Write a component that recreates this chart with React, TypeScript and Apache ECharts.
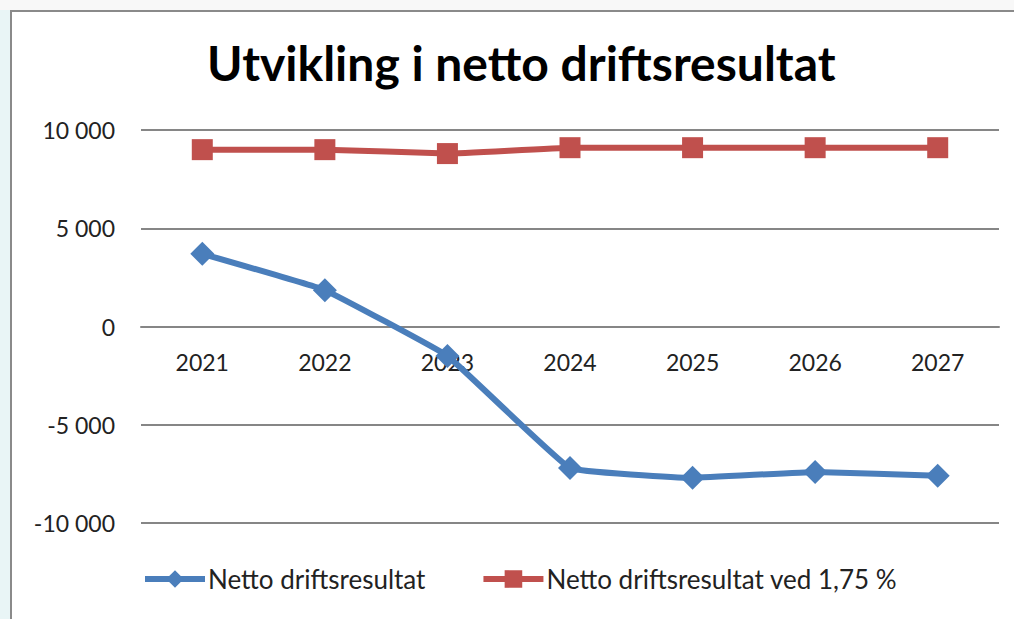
import React, { useEffect, useRef } from "react";
import * as echarts from "echarts";

const titleText = "Utvikling i netto driftsresultat";
const categories = ["2021", "2022", "2023", "2024", "2025", "2026", "2027"];
const nettoDrift = [3700, 1850, -1500, -7200, -7700, -7400, -7600];
const nettoDrift175 = [9000, 9000, 8800, 9100, 9100, 9100, 9100];
const seriesNames = ["Netto driftsresultat", "Netto driftsresultat ved 1,75 %"];
const yMin = -10000;
const yMax = 10000;
const yInterval = 5000;

const fmt = (v: number) => {
  const s = Math.abs(v).toString().replace(/\B(?=(\d{3})+(?!\d))/g, " ");
  return (v < 0 ? "-" : "") + s;
};

export default function App() {
  const ref = useRef<HTMLDivElement>(null);
  useEffect(() => {
    document.body.style.margin = "0";
    const chart = echarts.init(ref.current!, null, { renderer: "svg" });
    const font = "Lato, 'Open Sans', sans-serif";
    chart.setOption({
      animation: false,
      backgroundColor: "#ffffff",
      textStyle: { fontFamily: font },
      graphic: [
        { type: "rect", shape: { x: 0, y: 0, width: 1014, height: 10 }, style: { fill: "#f8f8f8" }, silent: true },
        { type: "rect", shape: { x: 0, y: 10, width: 10, height: 609 }, style: { fill: "#e9f5f6" }, silent: true },
        { type: "line", shape: { x1: 10, y1: 11, x2: 1014, y2: 11 }, style: { stroke: "#8a8a8a", lineWidth: 2 }, silent: true },
        { type: "line", shape: { x1: 11, y1: 10, x2: 11, y2: 619 }, style: { stroke: "#8a8a8a", lineWidth: 2 }, silent: true },
      ],
      title: {
        text: titleText,
        left: 202,
        top: 33,
        textStyle: { fontFamily: font, fontWeight: "bold", fontSize: 48, color: "#000000" },
      },
      legend: {
        bottom: 22,
        left: 137,
        itemWidth: 60,
        itemHeight: 22,
        itemGap: 55,
        lineStyle: { width: 6 },
        textStyle: { fontFamily: font, fontSize: 26, color: "#222222", padding: [0, 0, 0, -2] },
        data: seriesNames,
      },
      grid: { left: 141, right: 15, top: 130, height: 393, containLabel: false },
      xAxis: {
        type: "category",
        data: categories,
        boundaryGap: true,
        offset: -196.5,
        axisLine: { onZero: false, lineStyle: { color: "#868686", width: 2 } },
        axisTick: { show: false },
        axisLabel: { fontFamily: font, fontSize: 23, color: "#222222", margin: 24 },
      },
      yAxis: {
        type: "value",
        min: yMin,
        max: yMax,
        interval: yInterval,
        axisLine: { show: false },
        axisTick: { show: false },
        splitLine: { lineStyle: { color: "#868686", width: 2 } },
        axisLabel: { fontFamily: font, fontSize: 23, color: "#222222", margin: 26, formatter: fmt },
      },
      series: [
        {
          name: seriesNames[0],
          type: "line",
          data: nettoDrift,
          smooth: 0.08,
          symbol: "diamond",
          symbolSize: 24,
          lineStyle: { color: "#4a7ebb", width: 6 },
          itemStyle: { color: "#4a7ebb" },
        },
        {
          name: seriesNames[1],
          type: "line",
          data: nettoDrift175,
          smooth: 0.08,
          symbol: "rect",
          symbolSize: 21,
          lineStyle: { color: "#c0504d", width: 6 },
          itemStyle: { color: "#c0504d" },
        },
      ],
    });
    return () => chart.dispose();
  }, []);
  return <div ref={ref} style={{ width: 1014, height: 619 }} />;
}
